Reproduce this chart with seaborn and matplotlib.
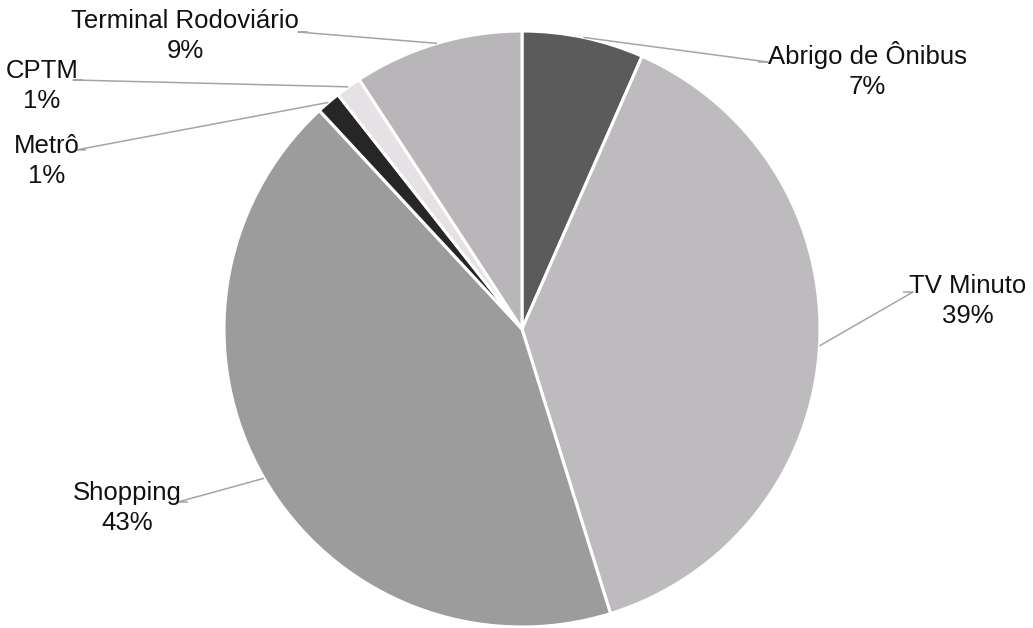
import numpy as np
import matplotlib
matplotlib.use("Agg")
import matplotlib.pyplot as plt
import seaborn as sns

# Share of placements by venue (percent)
categories = ["Abrigo de Ônibus", "TV Minuto", "Shopping", "Metrô", "CPTM", "Terminal Rodoviário"]
shares = [6.6, 38.6, 42.9, 1.3, 1.4, 9.2]
slice_colors = ["#5b5b5b", "#bebbbe", "#9c9c9c", "#262626", "#e5e1e5", "#b8b6b8"]

sns.set_theme(style="white")
plt.rcParams["font.family"] = ["Liberation Sans", "DejaVu Sans"]

W, H = 1033, 628
fig = plt.figure(figsize=(W / 100, H / 100), dpi=100)
ax = fig.add_axes([0, 0, 1, 1])

center = (522, 299)
radius = 298
palette = sns.color_palette(slice_colors)
wedges, _ = ax.pie(
    shares, colors=palette, startangle=90, counterclock=False,
    center=center, radius=radius, frame=True,
    wedgeprops=dict(edgecolor="white", linewidth=2.2),
)
ax.set_xlim(0, W)
ax.set_ylim(0, H)
ax.set_aspect("equal")
ax.axis("off")

# label block centre, leader end point, and side the label sits on
label_layout = [
    ((867, 558), (758, 566), +1),
    ((968, 327), (903, 336), +1),
    ((127, 120), (188, 126), -1),
    ((47, 467), (86, 478), -1),
    ((42, 542), (83, 548), -1),
    ((185, 592), (308, 596), -1),
]

for w, name, val, (tpos, lend, side) in zip(wedges, categories, shares, label_layout):
    ang = np.deg2rad((w.theta1 + w.theta2) / 2)
    ax_pt = (center[0] + radius * np.cos(ang), center[1] + radius * np.sin(ang))
    elbow = (lend[0] + side * 10, lend[1])
    ax.plot([ax_pt[0], elbow[0], lend[0]], [ax_pt[1], elbow[1], lend[1]],
            color="#a5a5a5", linewidth=1.1, solid_capstyle="butt", zorder=3)
    ax.text(tpos[0], tpos[1], f"{name}\n{round(val):d}%", ha="center", va="center",
            multialignment="center", fontsize=18.5, linespacing=1.3, color="#111111")

fig.savefig("out.png", dpi=100, facecolor="white")
